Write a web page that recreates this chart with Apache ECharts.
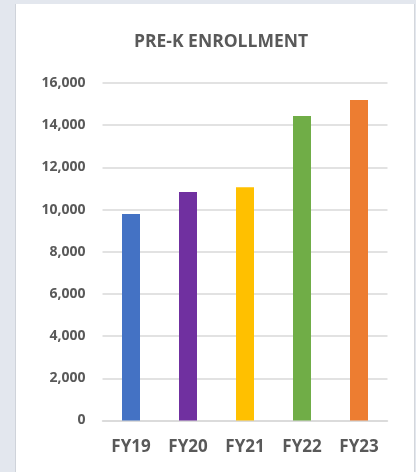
<!DOCTYPE html>
<html>
<head>
<meta charset="utf-8">
<script src="https://cdn.jsdelivr.net/npm/echarts@6/dist/echarts.min.js"></script>
<style>
html,body{margin:0;padding:0;background:#e3e7ee;}
#c{width:416px;height:472px;}
</style>
</head>
<body>
<div id="c"></div>
<script>
const categories = ["FY19", "FY20", "FY21", "FY22", "FY23"];
const enrollment = [9790, 10830, 11060, 14430, 15190];
const barColors = ["#4472c4", "#7030a0", "#ffc000", "#70ad47", "#ed7d31"];
const yTicks = [0, 2000, 4000, 6000, 8000, 10000, 12000, 14000, 16000];

const chart = echarts.init(document.getElementById('c'), null, {renderer: 'canvas'});
const font = '"Open Sans", "DejaVu Sans", sans-serif';
chart.setOption({
  backgroundColor: '#e3e7ee',
  animation: false,
  graphic: [
    {type: 'rect', left: 15, top: 4, shape: {width: 1, height: 468}, style: {fill: '#cfd3da'}, z: -10},
    {type: 'rect', left: 16, top: 4, shape: {width: 398, height: 468}, style: {fill: '#ffffff'}, z: -10},
    {type: 'rect', left: 414, top: 4, shape: {width: 1, height: 468}, style: {fill: '#d4d7dc'}, z: -10}
  ],
  title: {
    text: 'PRE-K ENROLLMENT',
    left: 216, top: 28, textAlign: 'center',
    textStyle: {fontFamily: font, fontWeight: 'bold', fontSize: 17.5, color: '#595959'}
  },
  grid: {left: 102.5, right: 28.5, top: 83, bottom: 51.5, containLabel: false},
  xAxis: {
    type: 'category',
    data: categories,
    axisLine: {lineStyle: {color: '#d9d9d9', width: 1.5}},
    axisTick: {show: false},
    axisLabel: {fontFamily: font, fontWeight: 'bold', fontSize: 17, color: '#595959', margin: 18}
  },
  yAxis: {
    type: 'value',
    min: yTicks[0], max: yTicks[yTicks.length - 1], interval: yTicks[1] - yTicks[0],
    axisLine: {show: false},
    axisTick: {show: false},
    splitLine: {lineStyle: {color: '#d9d9d9', width: 1.5}},
    axisLabel: {
      fontFamily: font, fontWeight: 'bold', fontSize: 14, color: '#595959', margin: 17,
      formatter: v => v.toLocaleString('en-US')
    }
  },
  series: [{
    type: 'bar',
    data: enrollment.map((v, i) => ({value: v, itemStyle: {color: barColors[i]}})),
    barWidth: 18
  }]
});
</script>
</body>
</html>
